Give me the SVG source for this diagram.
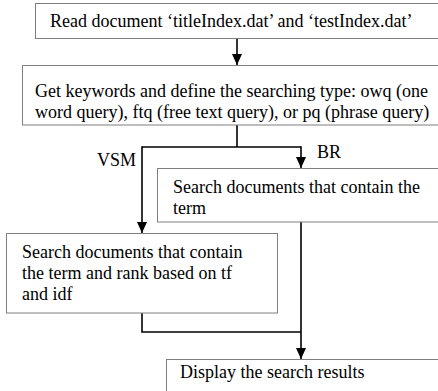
<svg xmlns="http://www.w3.org/2000/svg" width="438" height="391" viewBox="0 0 438 391">
<defs>
<style>
.box{fill:#fff;stroke:#7f7f7f;stroke-width:1}
.t{font-family:"Liberation Serif","Times New Roman",serif;font-size:18px;fill:#000}
.c{fill:none;stroke:#000;stroke-width:1.6}
</style>
<marker id="ah" markerUnits="userSpaceOnUse" markerWidth="12" markerHeight="12" viewBox="0 0 12 12" refX="11" refY="6" orient="auto">
<path d="M0,1 L11,6 L0,11 Z" fill="#000"/>
</marker>
</defs>
<rect width="438" height="391" fill="#fff"/>
<g id="connectors">
<line class="c" x1="237" y1="38" x2="237" y2="65" marker-end="url(#ah)"/>
<polyline class="c" points="237,125 237,147"/>
<polyline class="c" points="142,147 301,147"/>
<line class="c" x1="142" y1="146.2" x2="142" y2="233" marker-end="url(#ah)"/>
<line class="c" x1="301" y1="146.2" x2="301" y2="168" marker-end="url(#ah)"/>
<polyline class="c" points="142,313 142,332 301,332"/>
<line class="c" x1="301" y1="222" x2="301" y2="359" marker-end="url(#ah)"/>
<text class="t" x="97" y="166">VSM</text>
<text class="t" x="317" y="158">BR</text>
</g>
<g id="read">
<rect class="box" x="35.5" y="3.5" width="420" height="35"/>
<text class="t" x="50" y="27">Read document ‘titleIndex.dat’ and ‘testIndex.dat’</text>
</g>
<g id="keywords">
<rect class="box" x="22.5" y="65.5" width="430" height="59.5"/>
<text class="t" x="35" y="97">Get keywords and define the searching type: owq (one</text>
<text class="t" x="35" y="118">word query), ftq (free text query), or pq (phrase query)</text>
</g>
<g id="br">
<rect class="box" x="157.5" y="168.5" width="300" height="53.5"/>
<text class="t" x="173" y="193">Search documents that contain the</text>
<text class="t" x="173" y="214">term</text>
</g>
<g id="vsm">
<rect class="box" x="6.5" y="233.5" width="271" height="79.5"/>
<text class="t" x="22" y="258">Search documents that contain</text>
<text class="t" x="22" y="279">the term and rank based on tf</text>
<text class="t" x="22" y="300">and idf</text>
</g>
<g id="display">
<rect class="box" x="166.5" y="359.5" width="300" height="60"/>
<text class="t" x="180" y="378">Display the search results</text>
</g>
</svg>
